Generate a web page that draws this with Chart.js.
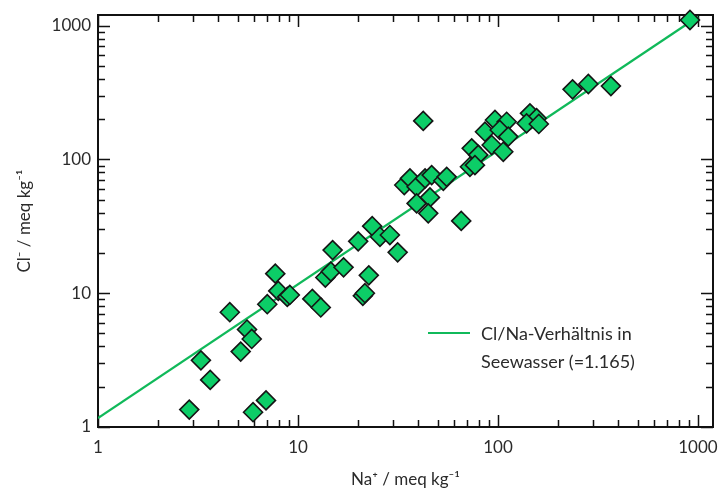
<!DOCTYPE html>
<html>
<head>
<meta charset="utf-8">
<script src="https://cdn.jsdelivr.net/npm/chart.js@4.4.1/dist/chart.umd.min.js"></script>
<style>
  html, body { margin: 0; padding: 0; background: #fff; }
  #wrap { width: 718px; height: 491px; }
</style>
</head>
<body>
<div id="wrap"><canvas id="clNaChart"></canvas></div>
<script>
const naValues = [
  2.86, 3.27, 3.64, 4.56, 5.56, 5.87, 5.17, 5.96, 6.92, 7.70,
  7.97, 7.02, 8.84, 9.1, 11.8, 13.0, 14.9, 13.7, 14.6, 16.9,
  20.0, 22.6, 21.1, 21.6, 23.5, 25.7, 28.8, 31.5, 42.3, 65.5,
  34.0, 36.3, 39.2, 43.2, 46.6, 53.3, 55.4, 39.2, 45.7, 44.8,
  96.6, 110.5, 86.1, 102, 112.6, 93.0, 106.3, 73.9, 79.7, 72.4,
  76.7, 144.5, 156, 139, 160, 236, 283, 367, 912
];
const clValues = [
  1.35, 3.15, 2.25, 7.21, 5.35, 4.55, 3.66, 1.29, 1.58, 14.0,
  10.4, 8.27, 9.38, 9.7, 9.06, 7.82, 21.0, 13.1, 14.5, 15.6,
  24.4, 13.6, 9.55, 10.0, 31.7, 26.4, 27.2, 20.2, 194, 34.7,
  64.3, 72.1, 62.4, 72.1, 76.3, 69.2, 74.1, 46.9, 52.0, 39.5,
  197, 191, 161, 166, 148, 128, 114, 121, 108, 88.1,
  90.6, 221, 203, 186, 184, 334, 366, 353, 1101
];

// Verhältnis Cl/Na im Meerwasser
const seawaterRatio = 1.165;
const ratioLineNa = [1, 1000];

// Achsenteilung
const tickValues = [
  1, 2, 3, 4, 5, 6, 7, 8, 9,
  10, 20, 30, 40, 50, 60, 70, 80, 90,
  100, 200, 300, 400, 500, 600, 700, 800, 900,
  1000
];
const majorTicks = [1, 10, 100, 1000];

const legendText = ['Cl/Na-Verhältnis in', 'Seewasser (=1.165)'];

const FONT = 'Lato, "Open Sans", sans-serif';
const TEXT_COLOR = '#2b2b2b';
const MARKER_GREEN = '#0ccd67';
const LINE_GREEN = '#10b95a';

const points = naValues.map((na, i) => ({ x: na, y: clValues[i] }));
const ratioLine = ratioLineNa.map(na => ({ x: na, y: na * seawaterRatio }));

// Rahmen und nach innen zeigende Striche
const frameTicks = {
  id: 'frameTicks',
  beforeDatasetsDraw(chart) {
    const { ctx, chartArea: a, scales } = chart;
    ctx.save();
    ctx.strokeStyle = '#111';
    ctx.lineWidth = 2;
    ctx.strokeRect(a.left, a.top, a.right - a.left, a.bottom - a.top);
    ctx.lineWidth = 1.5;
    ctx.beginPath();
    scales.x.ticks.forEach(t => {
      const px = Math.round(scales.x.getPixelForValue(t.value)) + 0.5;
      const len = majorTicks.includes(t.value) ? 12 : 7;
      ctx.moveTo(px, a.bottom); ctx.lineTo(px, a.bottom - len);
      ctx.moveTo(px, a.top); ctx.lineTo(px, a.top + len);
    });
    scales.y.ticks.forEach(t => {
      const py = Math.round(scales.y.getPixelForValue(t.value)) + 0.5;
      const len = majorTicks.includes(t.value) ? 12 : 7;
      ctx.moveTo(a.left, py); ctx.lineTo(a.left + len, py);
      ctx.moveTo(a.right, py); ctx.lineTo(a.right - len, py);
    });
    ctx.stroke();
    ctx.restore();
  },
  afterDraw(chart) {
    // Legende im Diagramm
    const { ctx } = chart;
    const line = chart.data.datasets[1];
    ctx.save();
    ctx.strokeStyle = line.borderColor;
    ctx.lineWidth = 2;
    ctx.beginPath();
    ctx.moveTo(428, 333);
    ctx.lineTo(470, 333);
    ctx.stroke();
    ctx.fillStyle = TEXT_COLOR;
    ctx.font = '18px ' + FONT;
    ctx.textBaseline = 'middle';
    ctx.fillText(legendText[0], 481, 334);
    ctx.fillText(legendText[1], 481, 362);
    ctx.restore();
  }
};

const tickSetup = axis => {
  axis.ticks = tickValues.map(v => ({ value: v, major: majorTicks.includes(v) }));
};

new Chart(document.getElementById('clNaChart').getContext('2d'), {
  type: 'scatter',
  data: {
    datasets: [
      {
        label: 'Proben',
        data: points,
        pointStyle: 'rectRot',
        pointRadius: 9.5,
        pointHoverRadius: 9.5,
        backgroundColor: MARKER_GREEN,
        borderColor: '#151515',
        borderWidth: 1.6,
        clip: false,
        order: 1
      },
      {
        label: legendText.join(' '),
        data: ratioLine,
        type: 'line',
        showLine: true,
        borderColor: LINE_GREEN,
        borderWidth: 2.2,
        pointRadius: 0,
        fill: false,
        order: 2
      }
    ]
  },
  options: {
    responsive: true,
    maintainAspectRatio: false,
    animation: false,
    layout: {
      autoPadding: false,
      padding: { top: 15, right: 5, left: 0, bottom: 0 }
    },
    plugins: {
      legend: { display: false },
      tooltip: { enabled: false }
    },
    scales: {
      x: {
        type: 'logarithmic',
        min: 1,
        max: 1189,
        afterBuildTicks: tickSetup,
        afterFit: s => {
          s.height = 64;
          s.paddingLeft = 0;
          s.paddingRight = 0;
        },
        grid: { display: false, drawTicks: false },
        border: { display: false },
        ticks: {
          autoSkip: false,
          maxRotation: 0,
          padding: 10,
          color: TEXT_COLOR,
          font: { family: FONT, size: 17 },
          callback: v => majorTicks.includes(v) ? String(v) : ''
        },
        title: {
          display: true,
          text: 'Na⁺ / meq kg⁻¹',
          color: TEXT_COLOR,
          font: { family: FONT, size: 17 },
          padding: { top: 0, bottom: 1 }
        }
      },
      y: {
        type: 'logarithmic',
        min: 1,
        max: 1200,
        afterBuildTicks: tickSetup,
        afterFit: s => {
          s.width = 98;
          s.paddingTop = 0;
          s.paddingBottom = 0;
        },
        grid: { display: false, drawTicks: false },
        border: { display: false },
        ticks: {
          autoSkip: false,
          padding: 7,
          color: TEXT_COLOR,
          font: { family: FONT, size: 17 },
          callback: v => majorTicks.includes(v) ? String(v) : ''
        },
        title: {
          display: true,
          text: 'Cl⁻ / meq kg⁻¹',
          color: TEXT_COLOR,
          font: { family: FONT, size: 17 },
          padding: { top: 14, bottom: 0 }
        }
      }
    }
  },
  plugins: [frameTicks]
});
</script>
</body>
</html>
